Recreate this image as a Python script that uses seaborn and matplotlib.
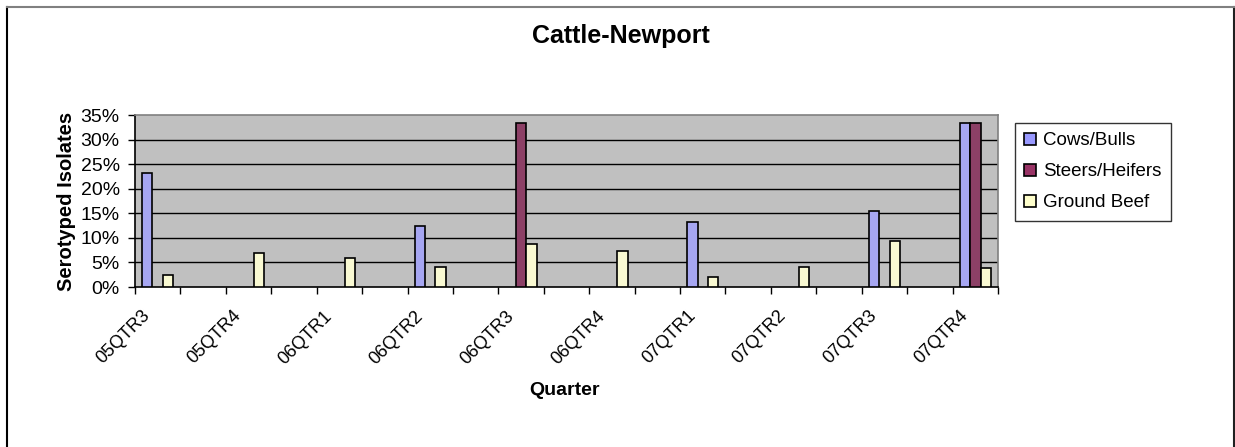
import matplotlib
matplotlib.use("Agg")
import matplotlib.pyplot as plt
from matplotlib.patches import Patch
from matplotlib.lines import Line2D
from matplotlib.transforms import ScaledTranslation
import seaborn as sns
import pandas as pd
import numpy as np

quarters = ["05QTR3", "05QTR4", "06QTR1", "06QTR2", "06QTR3",
            "06QTR4", "07QTR1", "07QTR2", "07QTR3", "07QTR4"]
cows_bulls = [23.1, None, None, 12.5, None, None, 13.3, None, 15.4, 33.3]
steers_heifers = [None, None, None, None, 33.3, None, None, None, None, 33.3]
ground_beef = [2.4, 6.9, 5.9, 4.1, 8.7, 7.3, 2.1, 4.1, 9.4, 3.8]
series_names = ["Cows/Bulls", "Steers/Heifers", "Ground Beef"]
series_colors = ["#9999FF", "#993366", "#FFFFCC"]

rows = []
for name, vals in zip(series_names, [cows_bulls, steers_heifers, ground_beef]):
    for q, v in zip(quarters, vals):
        if v is not None:
            rows.append({"Quarter": q, "Series": name, "Value": v})
df = pd.DataFrame(rows)

# category axis: every quarter followed by an unlabeled slot (as in the original)
order = []
for i, q in enumerate(quarters):
    order.append(q)
    if i < len(quarters) - 1:
        order.append(f"_gap{i}")

plt.rcParams['font.family'] = ['Liberation Sans', 'DejaVu Sans']

fig = plt.figure(figsize=(12.35, 4.47), dpi=100)
ax = fig.add_axes([135/1235, 1 - 287/447, (998-135)/1235, (287-115)/447])

sns.barplot(data=df, x="Quarter", y="Value", hue="Series", order=order,
            hue_order=series_names, palette=series_colors, width=0.69,
            edgecolor="black", linewidth=1.2, ax=ax, legend=False, zorder=3)

ax.set_facecolor("#C0C0C0")
ax.set_ylim(0, 35)
ax.set_xlim(-0.5, len(order) - 0.5)
yt = np.arange(0, 36, 5)
ax.set_yticks(yt)
ax.set_yticklabels([f"{v}%" for v in yt], fontsize=14)
for v in yt[1:-1]:
    ax.axhline(v, color="black", linewidth=1, zorder=1)

# labeled positions at every second category, ticks at boundaries
lab_pos = [order.index(q) for q in quarters]
ax.set_xticks(lab_pos)
ax.set_xticklabels(quarters, rotation=45, ha="right", va="center",
                   rotation_mode="anchor", fontsize=13)
ax.tick_params(axis="x", which="major", length=0, pad=19)
shift = ScaledTranslation(-10/100, 0, fig.dpi_scale_trans)
for lbl in ax.get_xticklabels():
    lbl.set_transform(lbl.get_transform() + shift)
ax.set_xticks(np.arange(-0.5, len(order), 1.0), minor=True)
ax.tick_params(axis="x", which="minor", length=5, width=1, color="black", direction="out")
ax.tick_params(axis="y", length=5, width=1, direction="out", pad=6)

for s in ["top", "right"]:
    ax.spines[s].set_color("#808080")
    ax.spines[s].set_linewidth(1.2)
for s in ["left", "bottom"]:
    ax.spines[s].set_color("black")
    ax.spines[s].set_linewidth(1.2)

ax.set_xlabel("Quarter", fontsize=14, fontweight="bold")
ax.xaxis.set_label_coords((565-135)/863, (287-382)/172)
ax.set_ylabel("Serotyped Isolates", fontsize=14.5, fontweight="bold", labelpad=3)
fig.text(621/1235, 1 - 36/447, "Cattle-Newport", ha="center", va="center",
         fontsize=18, fontweight="bold")

handles = [Patch(facecolor=c, edgecolor="black", linewidth=1.2) for c in series_colors]
leg = fig.legend(handles, series_names, loc="upper left",
                 bbox_to_anchor=(1015/1235, 1 - 123/447), fontsize=13.5,
                 frameon=True, fancybox=False, edgecolor="black",
                 handlelength=0.6, handleheight=0.6, handletextpad=0.4,
                 labelspacing=0.75, borderpad=0.5, borderaxespad=0)
leg.get_frame().set_linewidth(1.0)

# outer chart frame
fig.add_artist(Line2D([6.5/1235, 6.5/1235], [0, 1 - 7/447], color="black", lw=1.5,
                      transform=fig.transFigure))
fig.add_artist(Line2D([1233.5/1235, 1233.5/1235], [0, 1 - 7/447], color="#202020", lw=1.5,
                      transform=fig.transFigure))
fig.add_artist(Line2D([6.5/1235, 1233.5/1235], [1 - 7/447, 1 - 7/447], color="#808080", lw=1.5,
                      transform=fig.transFigure))

fig.savefig("out.png", dpi=100)
